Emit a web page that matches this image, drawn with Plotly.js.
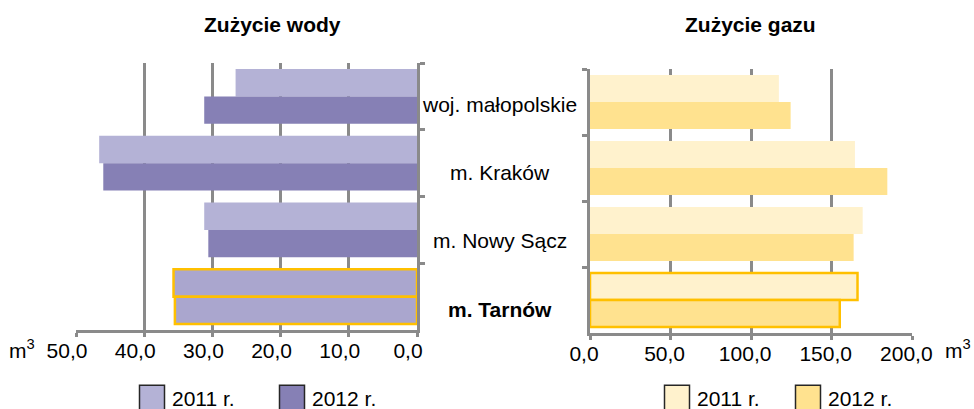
<!DOCTYPE html>
<html>
<head>
<meta charset="utf-8">
<script src="https://cdn.plot.ly/plotly-3.0.1.min.js"></script>
<style>
  html, body { margin: 0; padding: 0; background: #ffffff; }
  #chart { width: 974px; height: 409px; }
</style>
</head>
<body>
<div id="chart"></div>
<script>
// ---- data ----
const categories = ['woj. małopolskie', 'm. Kraków', 'm. Nowy Sącz', 'm. Tarnów'];
const highlightCategory = 'm. Tarnów';
const seriesNames = ['2011 r.', '2012 r.'];
const water2011 = [26.6, 46.6, 31.2, 35.7];
const water2012 = [31.2, 46.0, 30.6, 35.5];
const gas2011 = [117.2, 164.4, 169.2, 166.0];
const gas2012 = [124.5, 184.5, 163.6, 155.0];
const waterTitle = 'Zużycie wody';
const gasTitle = 'Zużycie gazu';
const unitLabel = 'm<sup>3</sup>';

// ---- styles ----
const FONT = 'Liberation Sans, Arial, sans-serif';
const FS = 21;
const GRID = '#8a8a8a';
const HL = '#FFC000';
const waterColors = ['#B4B2D6', '#8680B5'];
const waterHL = '#AAA6CE';
const gasColors = ['#FFF2CD', '#FFE28F'];

function perPoint(base, hl) {
  return categories.map(c => c === highlightCategory ? hl : base);
}
const lineColors = perPoint('rgba(0,0,0,0)', HL);
const lineWidths = perPoint(0, 2.5);

const traces = [
  {
    type: 'bar', orientation: 'h', name: seriesNames[0],
    x: water2011, y: categories, xaxis: 'x', yaxis: 'y',
    marker: { color: perPoint(waterColors[0], waterHL), line: { color: lineColors, width: lineWidths } },
    legend: 'legend', hoverinfo: 'x+y'
  },
  {
    type: 'bar', orientation: 'h', name: seriesNames[1],
    x: water2012, y: categories, xaxis: 'x', yaxis: 'y',
    marker: { color: perPoint(waterColors[1], waterHL), line: { color: lineColors, width: lineWidths } },
    legend: 'legend', hoverinfo: 'x+y'
  },
  {
    type: 'bar', orientation: 'h', name: seriesNames[0],
    x: gas2011, y: categories, xaxis: 'x2', yaxis: 'y2',
    marker: { color: gasColors[0], line: { color: lineColors, width: lineWidths } },
    legend: 'legend2', hoverinfo: 'x+y'
  },
  {
    type: 'bar', orientation: 'h', name: seriesNames[1],
    x: gas2012, y: categories, xaxis: 'x2', yaxis: 'y2',
    marker: { color: gasColors[1], line: { color: lineColors, width: lineWidths } },
    legend: 'legend2', hoverinfo: 'x+y'
  }
];

const W = 974, H = 409;
const px = v => v / W;
const py = v => 1 - v / H;

const xCommon = {
  showgrid: true, gridcolor: GRID, gridwidth: 2.5,
  zeroline: false, showline: true, linecolor: GRID, linewidth: 2.5,
  ticks: 'outside', ticklen: 4, tickwidth: 2.5, tickcolor: GRID,
  ticklabelstandoff: -4,
  tickformat: '.1f', tickfont: { family: FONT, size: FS, color: '#000' },
  fixedrange: true
};
const yCommon = {
  type: 'category', autorange: 'reversed',
  showgrid: false, zeroline: false, showline: true, linecolor: GRID, linewidth: 2.5,
  ticks: 'outside', tickson: 'boundaries', ticklen: 5, tickwidth: 2.5, tickcolor: GRID,
  showticklabels: false, fixedrange: true
};

const annotations = [
  { text: '<b>' + waterTitle + '</b>', xref: 'paper', yref: 'paper', x: px(272), y: py(24),
    xanchor: 'center', yanchor: 'middle', showarrow: false, font: { family: FONT, size: FS, color: '#000' } },
  { text: '<b>' + gasTitle + '</b>', xref: 'paper', yref: 'paper', x: px(750), y: py(24),
    xanchor: 'center', yanchor: 'middle', showarrow: false, font: { family: FONT, size: FS, color: '#000' } },
  { text: unitLabel, xref: 'paper', yref: 'paper', x: px(7), y: py(349),
    xanchor: 'left', yanchor: 'middle', showarrow: false, font: { family: FONT, size: FS, color: '#000' } },
  { text: unitLabel, xref: 'paper', yref: 'paper', x: px(943), y: py(349),
    xanchor: 'left', yanchor: 'middle', showarrow: false, font: { family: FONT, size: FS, color: '#000' } }
];
categories.forEach((c, i) => {
  annotations.push({
    text: c === highlightCategory ? '<b>' + c + '</b>' : c,
    xref: 'paper', yref: 'y2', x: px(500), y: c, yshift: -(3 + 2 * i),
    xanchor: 'center', yanchor: 'middle', showarrow: false,
    font: { family: FONT, size: FS, color: '#000' }
  });
});

const legendCommon = {
  orientation: 'h', xanchor: 'left', yanchor: 'middle', y: py(398),
  font: { family: FONT, size: FS, color: '#000' }, bgcolor: 'rgba(0,0,0,0)',
  entrywidthmode: 'pixels',
  itemclick: false, itemdoubleclick: false, traceorder: 'normal'
};

const layout = {
  width: W, height: H,
  margin: { l: 0, r: 0, t: 0, b: 0, autoexpand: false },
  paper_bgcolor: '#ffffff', plot_bgcolor: '#ffffff',
  separators: ', ',
  barmode: 'group', bargap: 0.18, bargroupgap: 0,
  font: { family: FONT, size: FS, color: '#000' },
  xaxis: Object.assign({}, xCommon, { domain: [px(76), px(417)], range: [50, 0], dtick: 10, tick0: 0, anchor: 'y', ticklabelshift: 9 }),
  yaxis: Object.assign({}, yCommon, { domain: [py(330), py(63)], side: 'right', anchor: 'x' }),
  xaxis2: Object.assign({}, xCommon, { domain: [px(590), px(912.3)], range: [0, 200], dtick: 50, tick0: 0, anchor: 'y2', ticklabelshift: -6 }),
  yaxis2: Object.assign({}, yCommon, { domain: [py(333), py(69)], side: 'left', anchor: 'x2' }),
  legend: Object.assign({}, legendCommon, { x: px(132), entrywidth: 95 }),
  legend2: Object.assign({}, legendCommon, { x: px(657), entrywidth: 86 }),
  annotations: annotations,
  showlegend: true
};

const gd = document.getElementById('chart');
function patchLegend() {
  gd.querySelectorAll('g.legendpoints path').forEach(p => {
    p.setAttribute('d', 'M12.5,12.5H-12.5V-12.5H12.5Z');
    p.style.stroke = '#262626';
    p.style.strokeWidth = '1.5px';
    p.style.strokeOpacity = '1';
  });
}
Plotly.newPlot(gd, traces, layout, { displayModeBar: false, responsive: false }).then(() => {
  patchLegend();
  gd.on('plotly_afterplot', patchLegend);
  setTimeout(patchLegend, 50);
});
</script>
</body>
</html>
